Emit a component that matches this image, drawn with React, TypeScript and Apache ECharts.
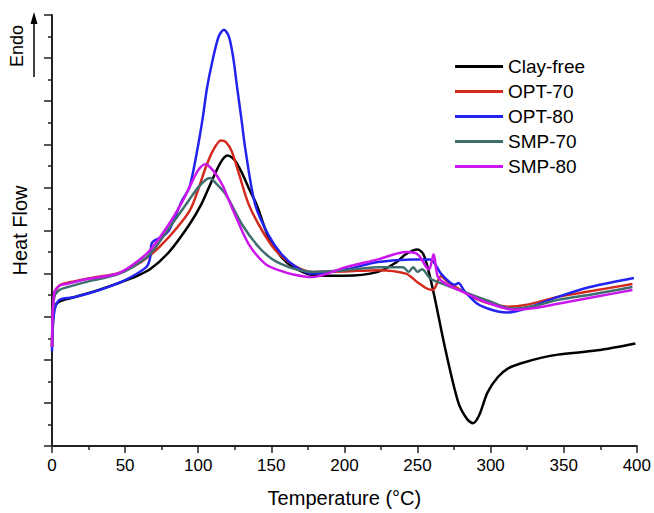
import React, { useEffect, useRef } from "react";
import * as echarts from "echarts";

const seriesNames = ["Clay-free", "OPT-70", "OPT-80", "SMP-70", "SMP-80"];
const seriesColors = ["#000000", "#d42a1e", "#2323f0", "#3f6e6e", "#cc16ee"];

const clayFree: number[][] = [
  [0, 2.3], [1.5, 3.2], [5, 3.35], [15, 3.45], [30, 3.6], [44, 3.76], [55, 3.9], [67, 4.1], [80, 4.5],
  [94, 5.14], [102, 5.6], [108, 6.05], [115, 6.56], [120, 6.74], [125, 6.63], [130, 6.33], [135, 5.95],
  [140, 5.6], [148, 4.85], [157, 4.38], [165, 4.15], [178, 3.97], [200, 3.95], [223, 4.04], [235, 4.25],
  [242, 4.45], [250, 4.56], [254, 4.45], [258, 4.0], [262, 3.4], [269, 2.25], [278, 1.0], [284, 0.62],
  [288, 0.53], [292, 0.7], [298, 1.25], [305, 1.6], [312, 1.8], [321, 1.92], [335, 2.05], [346, 2.12],
  [373, 2.22], [399, 2.38],
];

const opt70: number[][] = [
  [0, 2.3], [1.5, 3.5], [5, 3.72], [15, 3.82], [30, 3.92], [44, 4.0], [55, 4.15], [67, 4.42], [80, 4.85],
  [94, 5.45], [100, 5.95], [105, 6.45], [110, 6.85], [115.6, 7.09], [119, 7.05], [123, 6.83], [128, 6.3],
  [134.6, 5.6], [143.7, 5.0], [153, 4.54], [165, 4.2], [178, 4.04], [200, 4.05], [223, 4.08], [242, 4.0],
  [250, 3.8], [256, 3.66], [260.6, 3.62], [266, 3.94], [271, 3.8], [278, 3.65], [291, 3.4], [300, 3.3],
  [312, 3.23], [325, 3.28], [346, 3.46], [370, 3.6], [397, 3.76],
];

const opt80: number[][] = [
  [0, 2.2], [1.5, 3.1], [5, 3.39], [15, 3.45], [32.5, 3.62], [50, 3.85], [64.5, 4.15], [67, 4.35],
  [68.5, 4.72], [75, 4.85], [80, 5.0], [89, 5.7], [94, 6.0], [99, 6.8], [103, 7.59], [106, 8.3],
  [109.5, 8.9], [114, 9.5], [117.6, 9.66], [121, 9.5], [124, 9.0], [126.5, 8.35], [129.5, 7.6],
  [132.5, 6.83], [139, 5.6], [148, 4.9], [157, 4.45], [167, 4.15], [178, 4.0], [201, 4.1], [223, 4.27],
  [246, 4.33], [258.6, 4.33], [266, 4.0], [272, 3.8], [275.5, 3.74], [278, 3.78], [282, 3.6], [291, 3.3],
  [298, 3.19], [305, 3.12], [312, 3.1], [325, 3.2], [346, 3.46], [368, 3.69], [398, 3.9],
];

const smp70: number[][] = [
  [0, 2.3], [1.5, 3.45], [5, 3.62], [10, 3.68], [25, 3.82], [44, 3.97], [55, 4.15], [67, 4.45], [80, 5.05],
  [94, 5.72], [100, 6.0], [105, 6.17], [108, 6.22], [112, 6.1], [119, 5.83], [130, 5.14], [141.5, 4.61],
  [150, 4.35], [157, 4.22], [165, 4.12], [178, 4.04], [201, 4.08], [223, 4.15], [240, 4.15], [244, 4.04],
  [247, 4.15], [250, 4.04], [253, 4.1], [259, 3.88], [269, 3.74], [280, 3.6], [291, 3.46], [300, 3.35],
  [314, 3.19], [330, 3.25], [346, 3.39], [370, 3.52], [397, 3.69],
];

const smp80: number[][] = [
  [0, 2.3], [1.5, 3.55], [5, 3.72], [10, 3.76], [25, 3.88], [44, 3.99], [55, 4.2], [67, 4.54], [80, 5.15],
  [88, 5.6], [94, 6.0], [100, 6.4], [105, 6.54], [110, 6.4], [116.5, 6.06], [121, 5.7], [126, 5.3],
  [134.6, 4.68], [146, 4.22], [155, 4.08], [165, 3.98], [178, 3.92], [201, 4.15], [223, 4.33], [242, 4.5],
  [250, 4.45], [256, 4.15], [258, 4.1], [261, 4.45], [264, 3.92], [270, 3.75], [278, 3.62], [291, 3.42],
  [300, 3.3], [316, 3.16], [330, 3.2], [346, 3.3], [370, 3.45], [397, 3.62],
];

const allData = [clayFree, opt70, opt80, smp70, smp80];

const FONT = "'Liberation Sans', Arial, sans-serif";

export default function App() {
  const ref = useRef<HTMLDivElement>(null);
  useEffect(() => {
    if (!ref.current) return;
    const chart = echarts.init(ref.current, null, { renderer: "svg" });
    chart.setOption({
      animation: false,
      backgroundColor: "#ffffff",
      grid: { left: 52, right: 15, top: 15, bottom: 62, containLabel: false },
      legend: {
        orient: "vertical",
        left: 455,
        top: 57,
        padding: 0,
        icon: "rect",
        itemWidth: 48,
        itemHeight: 3,
        itemGap: 6,
        textStyle: { fontSize: 19, color: "#000", fontFamily: FONT },
        data: seriesNames,
      },
      xAxis: {
        type: "value",
        min: 0,
        max: 400,
        interval: 50,
        name: "Temperature (°C)",
        nameLocation: "middle",
        nameGap: 42,
        nameTextStyle: { fontSize: 20, color: "#000", fontFamily: FONT },
        axisLine: { show: true, onZero: false, lineStyle: { color: "#222", width: 2 } },
        axisTick: { show: true, inside: false, length: 7, lineStyle: { color: "#222", width: 1.5 } },
        minorTick: { show: true, splitNumber: 2, length: 4, lineStyle: { color: "#222", width: 1.5 } },
        axisLabel: { fontSize: 17, color: "#000", fontFamily: FONT, margin: 11 },
        splitLine: { show: false },
      },
      yAxis: {
        type: "value",
        min: 0,
        max: 10,
        interval: 1,
        name: "Heat Flow",
        nameLocation: "middle",
        nameGap: 22,
        nameTextStyle: { fontSize: 20, color: "#000", fontFamily: FONT },
        axisLine: { show: true, onZero: false, lineStyle: { color: "#222", width: 2 } },
        axisTick: { show: true, inside: false, length: 8, lineStyle: { color: "#222", width: 1.5 } },
        minorTick: { show: true, splitNumber: 2, length: 4, lineStyle: { color: "#222", width: 1.5 } },
        axisLabel: { show: false },
        splitLine: { show: false },
      },
      series: seriesNames.map((name, i) => ({
        name,
        type: "line",
        data: allData[i],
        showSymbol: false,
        symbol: "none",
        smooth: 0.3,
        lineStyle: { color: seriesColors[i], width: 2.5 },
        itemStyle: { color: seriesColors[i] },
      })),
      graphic: [
        {
          type: "text",
          x: 17,
          y: 46,
          rotation: Math.PI / 2,
          style: {
            text: "Endo",
            fontSize: 18,
            fontFamily: FONT,
            fill: "#000",
            align: "center",
            verticalAlign: "middle",
          },
        },
        {
          type: "line",
          shape: { x1: 34, y1: 77, x2: 34, y2: 22 },
          style: { stroke: "#000", lineWidth: 1.5 },
        },
        {
          type: "polygon",
          shape: { points: [[34, 12], [30.5, 24], [37.5, 24]] },
          style: { fill: "#000" },
        },
      ],
    });
    return () => chart.dispose();
  }, []);
  return (
    <div
      ref={ref}
      style={{ position: "fixed", left: 0, top: 0, width: 654, height: 513, background: "#fff" }}
    />
  );
}
